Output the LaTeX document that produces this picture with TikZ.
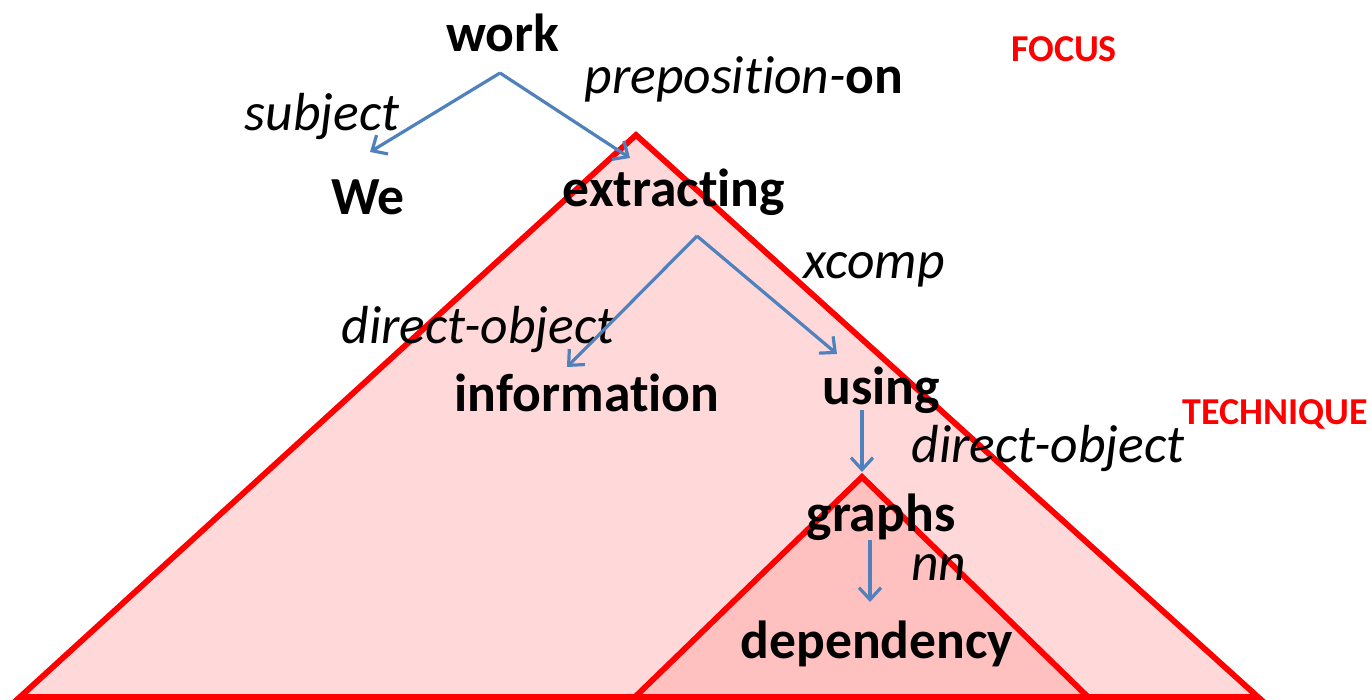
\documentclass[tikz,border=0pt]{standalone}
\usepackage{fontspec}
\setmainfont[Ligatures=NoCommon]{Carlito}
\usetikzlibrary{arrows.meta}
\definecolor{depblue}{RGB}{79,129,189}
\definecolor{edgered}{RGB}{255,0,0}
\definecolor{focusfill}{RGB}{255,217,217}
\definecolor{techfill}{RGB}{255,192,192}
\begin{document}
\begin{tikzpicture}[x=0.5pt,y=-0.5pt,
  word/.style={font=\fontsize{26.8}{31}\selectfont\bfseries, inner sep=0pt},
  rel/.style={font=\fontsize{26.8}{31}\selectfont\itshape, inner sep=0pt},
  tag/.style={font=\fontsize{19}{22}\selectfont\bfseries, text=edgered, inner sep=0pt},
  dep/.style={draw=depblue, line width=1.6pt,
    -{Straight Barb[length=6pt,width=11pt,line width=1.6pt]}},
  region/.style={draw=edgered, line width=2.9pt, line join=miter}]
\useasboundingbox (0,0) rectangle (1372,700);

% focus and technique regions
\draw[region, fill=focusfill] (636,135) -- (20,697) -- (1258,697) -- cycle;
\draw[region, fill=techfill] (862,477) -- (635,697) -- (1088,697) -- cycle;

% words of the sentence
\node[word] (work) at (503,33) {work};
\node[word] (we) at (368,197) {We};
\node[word] (extracting) at (674,192) {extracting};
\node[word] (information) at (587,393) {information};
\node[word] (using) at (881,390) {using};
\node[word] (graphs) at (881,517) {graphs};
\node[word] (dependency) at (877,644) {dependency};

% relation labels
\node[rel] (lsubj) at (322,116) {subject};
\node[rel] (lprep) at (744,79) {preposition-\textbf{\upshape on}};
\node[rel] (lxcomp) at (874,270) {xcomp};
\node[rel] (ldobj1) at (478,329) {direct-object};
\node[rel] (ldobj2) at (1048,448) {direct-object};
\node[rel] (lnn) at (939,568) {nn};

% region tags
\node[tag] (focus) at (1064,49) {FOCUS};
\node[tag] (technique) at (1275,414) {TECHNIQUE};

% arrow end points
\coordinate (workfoot) at (500,73);
\coordinate (wehead) at (370,152);
\coordinate (extrhead) at (630,158);
\coordinate (extrfoot) at (697,236);
\coordinate (infohead) at (567,367);
\coordinate (usinghead) at (837,354);
\coordinate (usingfoot) at (862,410);
\coordinate (graphshead) at (862,472);
\coordinate (graphsfoot) at (870,540);
\coordinate (dephead) at (870,602);

% dependency arcs
\draw[dep] (workfoot) -- (wehead);
\draw[dep] (workfoot) -- (extrhead);
\draw[dep] (extrfoot) -- (infohead);
\draw[dep] (extrfoot) -- (usinghead);
\draw[dep] (usingfoot) -- (graphshead);
\draw[dep] (graphsfoot) -- (dephead);
\end{tikzpicture}
\end{document}
